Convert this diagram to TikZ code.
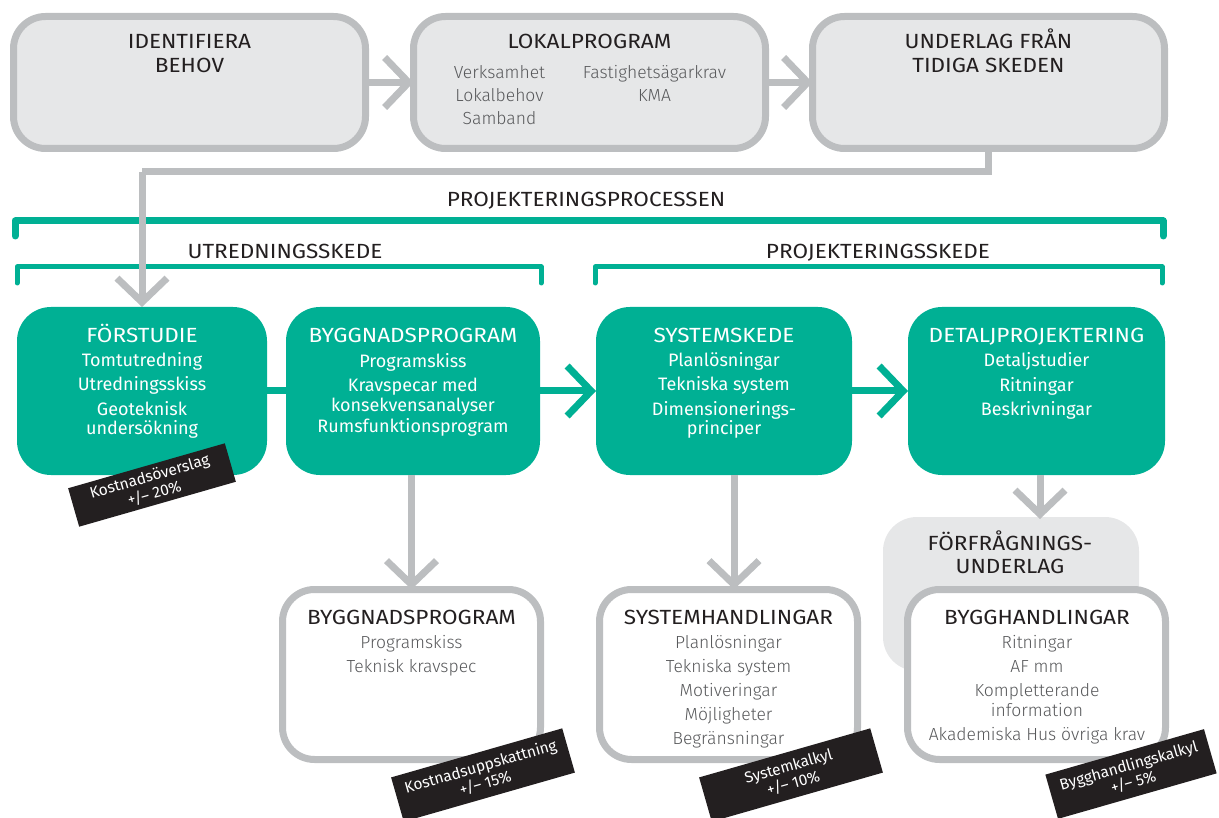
\documentclass[tikz,border=0pt]{standalone}
\usepackage{fontspec}
\setmainfont{Fira Sans}
\newfontfamily\headfont[FakeStretch=1.1]{Fira Sans}
\newfontfamily\lightfont{Fira Sans Light}
\usetikzlibrary{arrows.meta}

\definecolor{akteal}{RGB}{0,176,148}
\definecolor{edgegray}{RGB}{188,190,192}
\definecolor{panel}{RGB}{230,231,232}
\definecolor{ink}{RGB}{35,31,32}
\definecolor{softink}{RGB}{88,89,91}
\definecolor{tagblack}{RGB}{35,31,32}

\begin{document}
\begin{tikzpicture}[x=1pt,y=-1pt,
  graybox/.style={draw=edgegray, line width=7pt, fill=panel, rounded corners=32pt,
                  inner sep=0pt, outer sep=0pt},
  whitebox/.style={graybox, fill=white},
  greenbox/.style={fill=akteal, rounded corners=34pt, inner sep=0pt, outer sep=0pt},
  softbox/.style={fill=panel, rounded corners=34pt, inner sep=0pt, outer sep=0pt},
  % multi-line texts are placed by the baseline of their last line
  head/.style={anchor=base, align=center, inner sep=0pt, text=ink,
               font=\headfont\fontsize{20.5}{24}\selectfont},
  items/.style={anchor=base, align=center, inner sep=0pt, text=softink,
               font=\lightfont\fontsize{17.5}{24}\selectfont},
  ghead/.style={head, text=white},
  gitems/.style={anchor=base, align=center, inner sep=0pt, text=white,
               font=\fontsize{18}{24}\selectfont},
  tag/.style={fill=tagblack, text=white, rotate=16, align=center, inner sep=0pt,
              font=\fontsize{15.5}{17.5}\selectfont},
  grayarrow/.style={draw=edgegray, line width=7pt,
                    -{Straight Barb[length=24pt,width=50pt]}},
  greenarrow/.style={draw=akteal, line width=7pt,
                    -{Straight Barb[length=24pt,width=50pt]}},
  bracket/.style={draw=akteal, line cap=round, line join=round},
]
\useasboundingbox (0,0) rectangle (1219,818);

% ---- early stages -------------------------------------------------
\node[graybox, minimum width=352pt, minimum height=132pt] (need)  at (189.5,82.5) {};
\node[graybox, minimum width=352pt, minimum height=132pt] (lokal) at (589.5,82.5) {};
\node[graybox, minimum width=352pt, minimum height=132pt] (early) at (988.5,82.5) {};

\node[head] (needT) at (189.5,73) {IDENTIFIERA\\BEHOV};
\node[head] (lokalT) at (589.5,49) {LOKALPROGRAM};
\node[items] (lokalA) at (499.5,125) {Verksamhet\\[-1pt]Lokalbehov\\[-1pt]Samband};
\node[items] (lokalB) at (654.5,102) {Fastighetsägarkrav\\[-1pt]KMA};
\node[head] (earlyT) at (988.5,73) {UNDERLAG FRÅN\\TIDIGA SKEDEN};

\draw[grayarrow] (need) -- (lokal);
\draw[grayarrow] (lokal) -- (early);

% ---- process brackets ---------------------------------------------
\node[head] (procT) at (586,207) {PROJEKTERINGSPROCESSEN};
\draw[bracket, line width=7pt] (15,236) -- (15,221) -- (1163,221) -- (1163,236);
\node[head] (utrT) at (285,259) {UTREDNINGSSKEDE};
\draw[bracket, line width=5pt] (17,283) -- (17,267) -- (541,267) -- (541,283);
\node[head] (projT) at (878,259) {PROJEKTERINGSSKEDE};
\draw[bracket, line width=5pt] (595,283) -- (595,267) -- (1162,267) -- (1162,283);

% ---- phases -------------------------------------------------------
\node[greenbox, minimum width=250pt, minimum height=168pt] (pre)  at (142,391) {};
\node[greenbox, minimum width=254pt, minimum height=168pt] (bygg) at (413,391) {};
\node[greenbox, minimum width=256pt, minimum height=168pt] (sys)  at (724,391) {};
\node[greenbox, minimum width=257pt, minimum height=168pt] (det)  at (1036.5,391) {};

\node[ghead] (preT) at (142,343) {FÖRSTUDIE};
\node[gitems] (preL) at (142,435) {Tomtutredning\\Utredningsskiss\\Geoteknisk\\[-4pt]undersökning};
\node[ghead] (byggT) at (413,343) {BYGGNADSPROGRAM};
\node[gitems] (byggL) at (413,432) {Programskiss\\Kravspecar med\\[-4pt]konsekvensanalyser\\[-3pt]Rumsfunktionsprogram};
\node[ghead] (sysT) at (724,343) {SYSTEMSKEDE};
\node[gitems] (sysL) at (724,435) {Planlösningar\\Tekniska system\\Dimensionerings-\\[-4pt]principer};
\node[ghead] (detT) at (1036.5,343) {DETALJPROJEKTERING};
\node[gitems] (detL) at (1036.5,415) {Detaljstudier\\Ritningar\\Beskrivningar};

\draw[akteal, line width=7pt] (pre) -- (bygg);
\draw[greenarrow] (bygg) -- (sys);
\draw[greenarrow] (sys) -- (det);

% ---- documents ----------------------------------------------------
\node[softbox, minimum width=256pt, minimum height=154pt] (ffu) at (1011,594) {};
\node[head] (ffuT) at (1010,573) {FÖRFRÅGNINGS-\\[-1pt]UNDERLAG};

\node[whitebox, minimum width=258pt, minimum height=170pt] (bprog) at (411.5,674.5) {};
\node[whitebox, minimum width=258pt, minimum height=170pt] (sysh)  at (728.5,674.5) {};
\node[whitebox, minimum width=258pt, minimum height=170pt] (byggh) at (1036.5,674.5) {};

\node[head] (bprogT) at (411.5,624) {BYGGNADSPROGRAM};
\node[items] (bprogL) at (411.5,672) {Programskiss\\Teknisk kravspec};
\node[head] (syshT) at (728.5,624) {SYSTEMHANDLINGAR};
\node[items] (syshL) at (728.5,744) {Planlösningar\\Tekniska system\\Motiveringar\\Möjligheter\\Begränsningar};
\node[head] (bygghT) at (1037,624) {BYGGHANDLINGAR};
\node[items] (bygghL) at (1037,740) {Ritningar\\AF mm\\Kompletterande\\[-4pt]information\\Akademiska Hus övriga krav};

\draw[grayarrow] (bprog.north |- bygg.south) -- (bprog.north);
\draw[grayarrow] ([xshift=10pt]sys.south) -- ([xshift=10pt]sys.south |- sysh.north);
\draw[grayarrow] ([xshift=3.5pt]det.south) -- ([xshift=3.5pt,yshift=-2pt]det.south |- ffu.north);

% ---- feed from early stages into the pre-study --------------------
\coordinate (bend) at (142,172);
\draw[edgegray, line width=7pt] (early.south) |- (bend);
\draw[grayarrow] (bend) -- (pre.north);

% ---- cost estimates -----------------------------------------------
\node[tag, minimum width=163pt, minimum height=40pt] (tag1) at (152,485) {Kostnadsöverslag\\+/– 20\%};
\node[tag, minimum width=178pt, minimum height=46pt] (tag2) at (483,775) {Kostnadsuppskattning\\+/– 15\%};
\node[tag, minimum width=178pt, minimum height=46pt] (tag3) at (791,775) {Systemkalkyl\\+/– 10\%};
\node[tag, minimum width=165pt, minimum height=46pt] (tag4) at (1131,774) {Bygghandlingskalkyl\\+/– 5\%};
\end{tikzpicture}
\end{document}
